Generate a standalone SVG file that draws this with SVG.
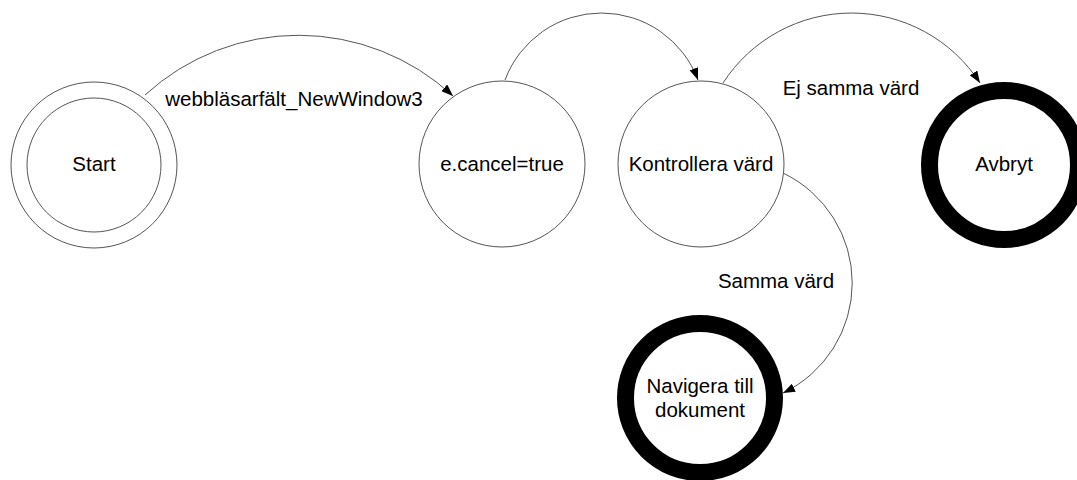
<svg xmlns="http://www.w3.org/2000/svg" width="1077" height="480" viewBox="0 0 1077 480">
<style>
.n{fill:#fff;stroke:#555;stroke-width:1}
.f{fill:#fff;stroke:#000;stroke-width:17}
.t{font-family:"Liberation Sans",Arial,sans-serif;font-size:20.5px;fill:#000;text-anchor:middle}
.c{fill:none;stroke:#555;stroke-width:1}
</style>
<defs>
<marker id="ah" markerUnits="userSpaceOnUse" markerWidth="12" markerHeight="9" refX="12" refY="4.5" orient="auto">
<path d="M0,0 L12,4.5 L0,9 z" fill="#000"/>
</marker>
</defs>
<rect width="1077" height="480" fill="#fff"/>
<g id="connectors">
<path class="c" d="M145,95 A227,227 0 0 1 453,96" marker-end="url(#ah)"/>
<path class="c" d="M505,80 A103,103 0 0 1 698,80" marker-end="url(#ah)"/>
<path class="c" d="M723,83 A153,153 0 0 1 980,83" marker-end="url(#ah)"/>
<path class="c" d="M783,173 A122,122 0 0 1 783,393" marker-end="url(#ah)"/>
<text class="t" x="294" y="106">webbläsarfält_NewWindow3</text>
<text class="t" x="851" y="95">Ej samma värd</text>
<text class="t" x="776" y="288">Samma värd</text>
</g>
<g id="start">
<circle class="n" cx="94" cy="165" r="83"/>
<circle class="n" cx="94" cy="165" r="67"/>
<text class="t" x="94" y="171">Start</text>
</g>
<g id="cancel">
<circle class="n" cx="502" cy="164" r="83"/>
<text class="t" x="502" y="171">e.cancel=true</text>
</g>
<g id="kontrollera">
<circle class="n" cx="701" cy="164" r="83"/>
<text class="t" x="701" y="171">Kontrollera värd</text>
</g>
<g id="avbryt">
<circle class="f" cx="1004" cy="165" r="74.5"/>
<text class="t" x="1004" y="171">Avbryt</text>
</g>
<g id="navigera">
<circle class="f" cx="700" cy="398" r="74.5"/>
<text class="t" x="700" y="393">Navigera till</text>
<text class="t" x="700" y="417">dokument</text>
</g>
</svg>
